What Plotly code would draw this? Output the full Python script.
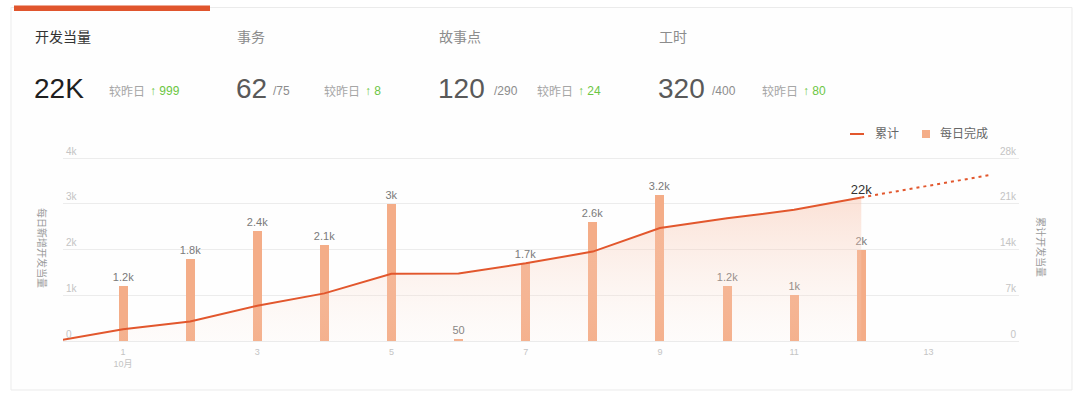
import plotly.graph_objects as go

# ---------------- data ----------------
days = [1, 2, 3, 4, 5, 6, 7, 8, 9, 10, 11, 12]
daily_done = [1200, 1800, 2400, 2100, 3000, 50, 1700, 2600, 3200, 1200, 1000, 2000]
daily_labels = ["1.2k", "1.8k", "2.4k", "2.1k", "3k", "50", "1.7k", "2.6k", "3.2k", "1.2k", "1k", "2k"]

cum_days = [0, 1, 2, 3, 4, 5, 6, 7, 8, 9, 10, 11, 12]
cum_values = [0, 1800, 3000, 5400, 7300, 10300, 10350, 11900, 13700, 17300, 18800, 20100, 22000]
cum_labels = [""] * 12 + ["22k"]

proj_days = [12, 13.9]
proj_values = [22000, 25400]

x_tickvals = [1, 3, 5, 7, 9, 11, 13]
x_ticktext = ["1<br>10月", "3", "5", "7", "9", "11", "13"]
left_tickvals = [0, 1000, 2000, 3000, 4000]
left_ticktext = ["0", "1k", "2k", "3k", "4k"]
right_tickvals = [0, 7000, 14000, 21000, 28000]
right_ticktext = ["0", "7k", "14k", "21k", "28k"]

kpi_titles = ["开发当量", "事务", "故事点", "工时"]
kpi_values = ["22K", "62", "120", "320"]
kpi_totals = ["", "/75", "/290", "/400"]
kpi_deltas = ["999", "8", "24", "80"]

# ---------------- geometry helpers (pixel -> paper) ----------------
W, H = 1080, 401
L, R, T, B = 63, 1019, 140, 341


def xp(px):
    return (px - L) / (R - L)


def yp(py):
    return (B - py) / (B - T)


LINE_C = "#e2572d"
BAR_C = "#f4ad88"
FONT = "Liberation Sans, Noto Sans CJK SC, sans-serif"

fig = go.Figure()

fig.add_trace(go.Bar(
    x=days, y=daily_done, width=0.134,
    marker=dict(color=BAR_C, line=dict(width=0)),
    text=daily_labels, textposition="outside", cliponaxis=False,
    constraintext="none",
    textfont=dict(size=11, color="#7a7a7a", family=FONT),
    name="每日完成", showlegend=False, yaxis="y",
))

fig.add_trace(go.Scatter(
    x=cum_days, y=cum_values, mode="lines+text", yaxis="y2",
    line=dict(color=LINE_C, width=2),
    fill="tozeroy",
    fillgradient=dict(type="vertical",
                      colorscale=[[0, "rgba(250,225,212,0.08)"], [1, "rgba(247,190,165,0.45)"]],
                      start=0, stop=22000),
    text=cum_labels, textposition="top center",
    textfont=dict(size=13, color="#333333", family=FONT),
    cliponaxis=False,
    name="累计", showlegend=False,
))

fig.add_trace(go.Scatter(
    x=proj_days, y=proj_values, mode="lines", yaxis="y2",
    line=dict(color=LINE_C, width=2, dash="3px,4px"),
    showlegend=False, hoverinfo="skip",
))

tickfont = dict(size=10, color="#c4c4c4", family=FONT)

fig.update_layout(
    width=W, height=H,
    margin=dict(l=L, r=W - R, t=T, b=H - B, pad=0),
    paper_bgcolor="#ffffff", plot_bgcolor="rgba(0,0,0,0)",
    showlegend=False,
    bargap=0,
    font=dict(family=FONT),
    xaxis=dict(range=[0.106, 14.35], tickvals=x_tickvals, ticktext=x_ticktext,
               showgrid=False, zeroline=False, showline=True, linecolor="#ebebeb",
               linewidth=1, ticks="", tickfont=dict(size=9, color="#c4c4c4", family=FONT),
               ticklabelstandoff=2),
    yaxis=dict(range=[0, 4400], tickvals=left_tickvals, ticktext=left_ticktext,
               showgrid=True, gridcolor="#ececec", gridwidth=1, zeroline=False,
               ticks="", ticklabelposition="inside top", ticklabeloverflow="allow",
               tickfont=tickfont, showline=False),
    yaxis2=dict(range=[0, 30800], tickvals=right_tickvals, ticktext=right_ticktext,
                overlaying="y", side="right", showgrid=False, zeroline=False,
                ticks="", ticklabelposition="inside top", ticklabeloverflow="allow",
                tickfont=tickfont, showline=False),
)

shapes = []
# card
shapes.append(dict(type="rect", xref="paper", yref="paper",
                   x0=xp(11), x1=xp(1072), y0=yp(390), y1=yp(7.5),
                   line=dict(color="#ebebeb", width=1), fillcolor="#fefefe", layer="below"))
# active tab indicator
shapes.append(dict(type="rect", xref="paper", yref="paper",
                   x0=xp(14), x1=xp(210), y0=yp(11), y1=yp(5.5),
                   line=dict(width=0), fillcolor="#e0552d", layer="above"))
# legend symbols
shapes.append(dict(type="line", xref="paper", yref="paper",
                   x0=xp(850), x1=xp(864), y0=yp(134), y1=yp(134),
                   line=dict(color=LINE_C, width=2)))
shapes.append(dict(type="rect", xref="paper", yref="paper",
                   x0=xp(922), x1=xp(930), y0=yp(138), y1=yp(130),
                   line=dict(width=0), fillcolor=BAR_C))

ann = []


def add_text(text, x, y, size, color, anchor="left", angle=0):
    ann.append(dict(text=text, x=xp(x), y=yp(y), xref="paper", yref="paper",
                    xanchor=anchor, yanchor="middle", showarrow=False, textangle=angle,
                    font=dict(size=size, color=color, family=FONT)))


title_x = [33, 235, 437, 657]
title_col = ["#333333", "#8c8c8c", "#8c8c8c", "#8c8c8c"]
val_col = ["#1f1f1f", "#595959", "#595959", "#595959"]
total_x = [None, 271, 492, 710]
cmp_x = [107, 322, 535, 760]
for i in range(4):
    add_text(kpi_titles[i], title_x[i], 37, 14, title_col[i])
    add_text(kpi_values[i], title_x[i] - 1, 88, 28, val_col[i])
    if kpi_totals[i]:
        add_text(kpi_totals[i], total_x[i], 91, 12, "#8c8c8c")
    add_text("较昨日", cmp_x[i], 91, 12, "#a6a6a6")
    add_text("↑ " + kpi_deltas[i], cmp_x[i] + 41, 91, 12, "#6cc644")

# legend text
add_text("累计", 873, 134, 12, "#666666")
add_text("每日完成", 938, 134, 12, "#666666")

# axis titles
add_text("每日新增开发当量", 42, 248, 10, "#9a9a9a", anchor="center", angle=90)
add_text("累计开发当量", 1041, 247, 10, "#9a9a9a", anchor="center", angle=90)

fig.update_layout(shapes=shapes, annotations=ann)

fig.write_html("out.html", config={"displayModeBar": False},
               post_script="document.body.style.margin='0';document.body.style.padding='0';")
